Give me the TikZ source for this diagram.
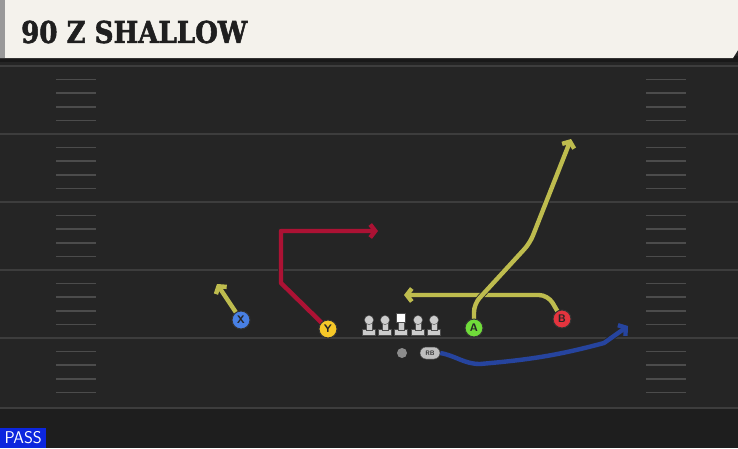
\documentclass[tikz,border=0pt]{standalone}
\usepackage{fontspec}
\newfontfamily\titlefont{DejaVu Serif}[BoldFeatures={FakeBold=2}]
\usetikzlibrary{arrows.meta, positioning, shapes.misc}
\definecolor{fieldgray}{RGB}{37,37,37}
\definecolor{headbeige}{RGB}{244,242,236}
\definecolor{routeyellow}{RGB}{190,188,78}
\definecolor{routered}{RGB}{172,18,52}
\definecolor{routeblue}{RGB}{38,68,158}
\definecolor{passblue}{RGB}{12,38,222}
\tikzset{
  route/.style={line width=4.4pt, line join=round, -{Straight Barb[length=5pt,width=13pt]},
    preaction={draw=black!85, line width=6pt}},
  player/.style={circle, draw=black!80, line width=1pt, minimum size=18pt, inner sep=0pt,
    font=\sffamily\bfseries\fontsize{11}{11}\selectfont, text=black!85},
  hash/.style={draw=white!18!fieldgray, line width=1.6pt},
  yardline/.style={draw=white!11!fieldgray, line width=1.8pt},
  lineman/.style={fill=black!20, draw=black!70, line width=0.4pt}
}
\begin{document}
\begin{tikzpicture}[x=1pt,y=-1pt]
  \useasboundingbox (0,0) rectangle (738,448);
  \fill[fieldgray] (0,0) rectangle (738,448);
  \fill[black!20!fieldgray] (0,408) rectangle (738,448);
  % yard lines and hash marks
  \foreach \yl in {66,134,202,270,338,408} {
    \draw[yardline] (0,\yl) -- (738,\yl);
  }
  \foreach \yl in {66,134,202,270,338} {
    \foreach \k in {1,...,4} {
      \draw[hash] (56,\yl+\k*13.6) -- (96,\yl+\k*13.6);
      \draw[hash] (646,\yl+\k*13.6) -- (686,\yl+\k*13.6);
    }
  }
  % header
  \fill[black!90] (0,56) rectangle (738,62);
  \fill[headbeige] (0,0) -- (738,0) -- (738,50) -- (733,58) -- (0,58) -- cycle;
  \fill[black!40] (0,0) rectangle (5,58);
  \node[anchor=west, font=\titlefont\bfseries\fontsize{30}{30}\selectfont, text=black!88,
    inner sep=0pt, xscale=0.87, transform shape] (title) at (21,32) {90 Z SHALLOW};
  \node[anchor=south west, fill=passblue, text=white, font=\sffamily\fontsize{17}{17}\selectfont,
    minimum width=46pt, minimum height=20pt, inner sep=1pt] (pass) at (0,448) {PASS};
  % line
  \foreach \xl in {369,385,418,434} {
    \fill[lineman] (\xl-6.5,329) rectangle (\xl+6.5,335);
    \fill[lineman] (\xl-3,321) rectangle (\xl+3,330);
    \fill[lineman] (\xl,320) circle (4.6);
  }
  \fill[lineman] (401-6.5,329) rectangle (401+6.5,335);
  \fill[lineman] (401-3,320) rectangle (401+3,330);
  \fill[white, draw=black!70, line width=0.4pt] (396.5,313.5) rectangle (405.5,322.5);
  \node[circle, fill=black!45, minimum size=10pt, inner sep=0pt] (qb) at (402,353) {};
  \node[rounded rectangle, fill=black!25, draw=black!70, line width=0.5pt, minimum width=20pt,
    minimum height=12pt, inner sep=0pt, font=\sffamily\bfseries\fontsize{6.5}{6.5}\selectfont,
    text=black!80] (rb) at (430,353) {RB};
  % receivers
  \coordinate (xend) at (217,284);
  \coordinate (yend) at (378,231);
  \coordinate (aend) at (571,139);
  \coordinate (bend) at (404,295);
  \coordinate (rbend) at (628,326);
  \draw[route, routeblue] (rb.east) to[out=-10,in=180] (480,364) to[out=5,in=195] (604,343)
    -- (rbend);
  \draw[route, routeyellow] (241,320) -- (xend);
  \draw[route, routered] (328,329) -- (281,283) -- (281,231) -- (yend);
  \draw[route, routeyellow, rounded corners=9pt] (562,319) -- (548,295) -- (bend);
  \draw[route, routeyellow, rounded corners=8pt] (474,328) -- (474,304) -- (530,243) -- (aend);
  \node[player, fill={rgb,255:red,72;green,128;blue,228}] (x) at (241,320) {X};
  \node[player, fill={rgb,255:red,246;green,200;blue,40}] (y) at (328,329) {Y};
  \node[player, fill={rgb,255:red,112;green,220;blue,58}] (a) at (474,328) {A};
  \node[player, fill={rgb,255:red,228;green,52;blue,62}] (b) at (562,319) {B};
\end{tikzpicture}
\end{document}
